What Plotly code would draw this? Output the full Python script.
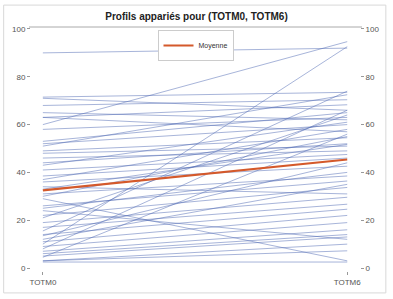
import plotly.graph_objects as go

categories = ["TOTM0", "TOTM6"]
totm0 = [90, 71.5, 71, 68, 65, 63, 63, 60, 58, 53, 52, 51, 49, 48, 46, 44, 43, 41,
         38.5, 37, 36, 33, 31, 30, 29, 26, 25, 22, 21, 19, 17, 15.5, 14, 13.5, 11,
         10, 9, 8, 7, 6, 5, 4.5, 3, 3, 2.5, 12, 24, 34]
totm6 = [92, 73.5, 66, 70.4, 62, 68.3, 57, 94.7, 63, 65, 60, 72.5, 54.5, 51, 49, 52,
         61, 47.5, 46, 58, 42.6, 51.7, 38.5, 55, 3, 36.4, 40, 33.7, 64, 29.6, 26.7,
         74, 24.6, 44, 22, 92.6, 19, 66, 16, 14, 13, 56, 10, 7.2, 2.5, 35, 12, 31]
mean_vals = [32.5, 45.4]
y_ticks = [0, 20, 40, 60, 80, 100]

xpos = [0, 1]
fig = go.Figure()
for a, b in zip(totm0, totm6):
    fig.add_trace(go.Scatter(x=xpos, y=[a, b], mode="lines",
                             line=dict(color="rgba(80,105,180,0.5)", width=1),
                             showlegend=False, hoverinfo="skip"))
fig.add_trace(go.Scatter(x=xpos, y=mean_vals, mode="lines", name="Moyenne",
                         line=dict(color="#D4592B", width=2.2)))
fig.add_trace(go.Scatter(x=[0], y=[None], yaxis="y2", showlegend=False,
                         hoverinfo="skip", mode="lines"))

W, H = 393, 299
L, R, T, B = 29, 33, 27, 27
pw, ph = W - L - R, H - T - B

def px(x):
    return (x - L) / pw

def py(y):
    return (H - B - y) / ph

font = "Liberation Sans, Arial, sans-serif"
yax = dict(range=[-1.25, 100.83], tickvals=y_ticks, showgrid=False, zeroline=False,
           showline=False, ticks="outside", ticklen=3, tickcolor="#999",
           tickfont=dict(size=8, color="#555", family=font), fixedrange=True)

fig.update_layout(
    width=W, height=H,
    margin=dict(l=L, r=R, t=T, b=B),
    paper_bgcolor="white", plot_bgcolor="white",
    title=dict(text="<b>Profils appariés pour (TOTM0, TOTM6)</b>", x=0.5, xanchor="center",
               y=1 - 16 / H, yanchor="middle", yref="container",
               font=dict(size=10, color="#222", family=font)),
    xaxis=dict(range=[-0.039, 1.042], tickvals=xpos, ticktext=categories,
               showgrid=False, zeroline=False, showline=False, ticks="outside",
               ticklen=3, tickcolor="#999",
               tickfont=dict(size=8, color="#555", family=font)),
    yaxis=yax,
    yaxis2=dict(yax, overlaying="y", side="right"),
    legend=dict(x=0.5, xanchor="center", y=py(30), yanchor="top",
                bordercolor="#ccc", borderwidth=1, bgcolor="white",
                font=dict(size=7, color="#333", family=font),
                itemwidth=30, tracegroupgap=0),
    shapes=[
        dict(type="line", xref="paper", yref="paper", x0=px(27), x1=px(362),
             y0=py(27), y1=py(27), line=dict(color="#aaa", width=1)),
        dict(type="rect", xref="paper", yref="paper", x0=px(1.5), x1=px(386),
             y0=py(5), y1=py(294), line=dict(color="#d8d8d8", width=1)),
    ],
)

fig.write_html("out.html")
